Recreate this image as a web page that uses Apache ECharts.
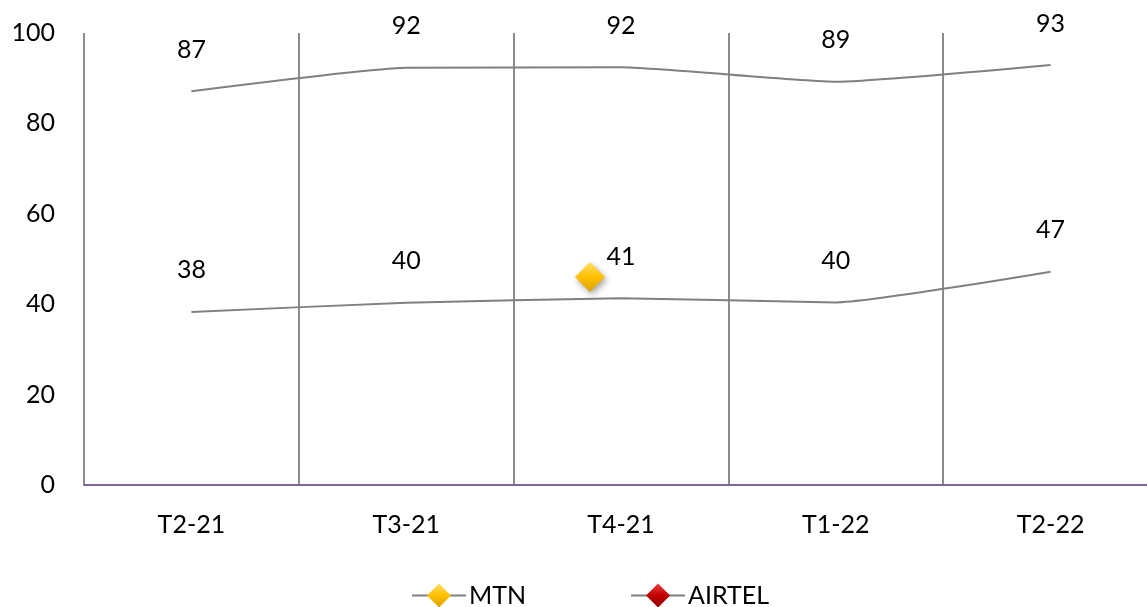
<!DOCTYPE html>
<html><head><meta charset="utf-8">
<script src="https://cdn.jsdelivr.net/npm/echarts@6/dist/echarts.min.js"></script>
<style>html,body{margin:0;padding:0;background:#fff}#c{width:1147px;height:607px}</style>
</head><body><div id="c"></div>
<script>
const categories = ['T2-21','T3-21','T4-21','T1-22','T2-22'];
const mtnValues = [87.1, 92.3, 92.4, 89.2, 92.9];
const airtelValues = [38.3, 40.3, 41.3, 40.4, 47.2];
const strayMarker = [null, null, 46.0, null, null];
const yTicks = {min: 0, max: 100, interval: 20};

const FONT = 'Lato';
const FS = 25;
const yellowGrad = new echarts.graphic.LinearGradient(0,0,0,1,[{offset:0,color:'#FFE066'},{offset:0.5,color:'#FFC000'},{offset:1,color:'#D9A000'}]);
const redGrad = new echarts.graphic.LinearGradient(0,0,0,1,[{offset:0,color:'#F04040'},{offset:0.5,color:'#C00000'},{offset:1,color:'#900000'}]);
const lbl = {show:true, position:'top', distance:28, color:'#000', fontFamily:FONT, fontSize:FS,
  formatter: p => Math.round(p.value)};

const chart = echarts.init(document.getElementById('c'));
chart.setOption({
  animation:false,
  textStyle:{fontFamily:FONT},
  grid:{left:84, top:33, width:1074, height:452, containLabel:false, outerBoundsMode:'none'},
  legend:{
    left:406, top:578, itemWidth:54, itemHeight:30, itemGap:104,
    textStyle:{fontFamily:FONT, fontSize:FS, color:'#000', padding:[0,0,0,-2]},
    data:[
      {name:'MTN', itemStyle:{color:yellowGrad, opacity:1}, lineStyle:{color:'#808080', width:2}},
      {name:'AIRTEL', itemStyle:{color:redGrad, opacity:1}, lineStyle:{color:'#808080', width:2}}
    ]
  },
  xAxis:{
    type:'category', data:categories, boundaryGap:true,
    axisLine:{show:true, lineStyle:{color:'#8064A2', width:2}},
    axisTick:{show:false},
    axisLabel:{color:'#000', fontFamily:FONT, fontSize:FS, margin:27},
    splitLine:{show:true, lineStyle:{color:'#8c8c8c', width:2}}
  },
  yAxis:{
    type:'value', min:yTicks.min, max:yTicks.max, interval:yTicks.interval,
    axisLine:{show:false}, axisTick:{show:false}, splitLine:{show:false},
    axisLabel:{color:'#000', fontFamily:FONT, fontSize:FS, margin:29}
  },
  series:[
    {name:'MTN', type:'line', data:mtnValues, smooth:0.15, symbol:'diamond', symbolSize:2, showSymbol:true,
      itemStyle:{color:'rgba(0,0,0,0)'}, lineStyle:{color:'#808080', width:2}, label:lbl, z:3},
    {name:'AIRTEL', type:'line', data:airtelValues, smooth:0.15, symbol:'diamond', symbolSize:2, showSymbol:true,
      itemStyle:{color:'rgba(0,0,0,0)'}, lineStyle:{color:'#808080', width:2}, label:lbl, z:3},
    {name:'stray', type:'line', data:strayMarker, symbol:'diamond', symbolSize:30, symbolOffset:[-31,0], showSymbol:true,
      lineStyle:{opacity:0}, itemStyle:{color:yellowGrad, shadowBlur:6, shadowColor:'rgba(0,0,0,0.35)', shadowOffsetX:2, shadowOffsetY:3}, z:4}
  ]
});
</script></body></html>
